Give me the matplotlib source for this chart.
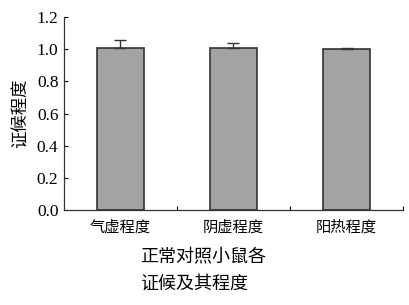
import matplotlib
matplotlib.use("Agg")
import matplotlib.pyplot as plt
import numpy as np

# 数据
categories = ["气虚程度", "阴虚程度", "阳热程度"]
values = [1.01, 1.01, 1.00]
errors = [0.05, 0.03, 0.005]
y_ticks = [0.0, 0.2, 0.4, 0.6, 0.8, 1.0, 1.2]

cjk = ["Noto Sans CJK SC", "DejaVu Sans"]

fig = plt.figure(figsize=(4.1, 3.05), dpi=100)
ax = fig.add_axes([0.156, 0.311, 0.827, 0.633])

x = np.arange(len(categories))
ax.bar(x, values, width=0.42, color="#a3a3a3", edgecolor="#333333", linewidth=1.2, zorder=2)
ax.errorbar(x, values, yerr=[np.zeros(len(errors)), errors], fmt="none",
            ecolor="#333333", elinewidth=1.0, capsize=4, capthick=1.0, zorder=3)

ax.set_xlim(-0.5, 2.5)
ax.set_ylim(0, 1.2)
ax.set_yticks(y_ticks)
ax.set_yticklabels([f"{v:.1f}" for v in y_ticks], family="Liberation Serif", fontsize=12.5)
ax.set_xticks(x)
ax.set_xticklabels(categories, family=cjk, fontsize=11)
ax.set_xticks([0.5, 1.5, 2.5], minor=True)
ax.tick_params(axis="x", which="major", length=0, pad=6)
ax.tick_params(axis="x", which="minor", direction="in", length=3, width=0.8)
ax.tick_params(axis="y", direction="in", length=3, width=0.8, pad=4)

for side in ["top", "right"]:
    ax.spines[side].set_visible(False)
for side in ["left", "bottom"]:
    ax.spines[side].set_linewidth(0.9)
    ax.spines[side].set_color("#333333")

ax.set_ylabel("证候程度", family=cjk, fontsize=12.5, labelpad=5)

fig.text(0.341, 0.155, "正常对照小鼠各", family=cjk, fontsize=13, va="center", ha="left")
fig.text(0.341, 0.068, "证候及其程度", family=cjk, fontsize=13, va="center", ha="left")

plt.savefig("out.png", dpi=100)
